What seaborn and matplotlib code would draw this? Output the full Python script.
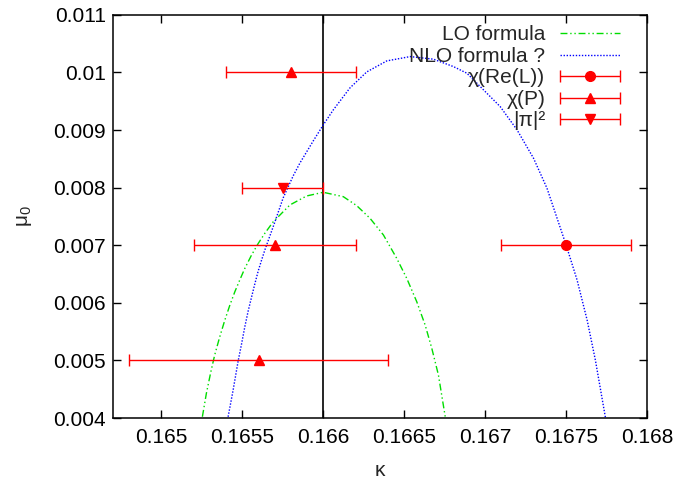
import matplotlib
matplotlib.use("Agg")
import matplotlib.pyplot as plt
from matplotlib.legend_handler import HandlerErrorbar
import seaborn as sns

# curves
lo_kappa = [0.165253, 0.165278, 0.165305, 0.165329, 0.165360, 0.165391, 0.165422,
            0.165453, 0.165484, 0.165515, 0.165557, 0.165598, 0.165639, 0.165690,
            0.165794, 0.165897, 0.166000, 0.166124, 0.166207, 0.166289, 0.166372,
            0.166454, 0.166516, 0.166578, 0.166630, 0.166671, 0.166712, 0.166754]
lo_mu = [0.004023, 0.004434, 0.004799, 0.005094, 0.005407, 0.005694, 0.005954,
         0.006189, 0.006397, 0.006597, 0.006831, 0.007031, 0.007208, 0.007405,
         0.007700, 0.007856, 0.007920, 0.007844, 0.007688, 0.007469, 0.007179,
         0.006774, 0.006427, 0.006020, 0.005615, 0.005211, 0.004747, 0.004023]

nlo_kappa = [0.165412, 0.165443, 0.165474, 0.165495, 0.165515, 0.165536, 0.165557,
             0.165577, 0.165598, 0.165619, 0.165639, 0.165701, 0.165752, 0.165814,
             0.165856, 0.165938, 0.166000, 0.166062, 0.166165, 0.166269, 0.166393,
             0.166537, 0.166681, 0.166805, 0.166888, 0.166991, 0.167094, 0.167198,
             0.167300, 0.167383, 0.167503, 0.167569, 0.167631, 0.167682, 0.167744]
nlo_mu = [0.004023, 0.004486, 0.004990, 0.005285, 0.005581, 0.005859, 0.006102,
          0.006328, 0.006553, 0.006744, 0.006918, 0.007404, 0.007821, 0.008204,
          0.008429, 0.008811, 0.009089, 0.009350, 0.009732, 0.010010, 0.010201,
          0.010276, 0.010231, 0.010102, 0.009987, 0.009697, 0.009407, 0.009003,
          0.008510, 0.007990, 0.006988, 0.006397, 0.005702, 0.005007, 0.004012]

# data points with horizontal errors
rel_kappa = [0.1675]
rel_mu = [0.007]
rel_err = [0.0004]

chip_kappa = [0.1658, 0.1657, 0.1656]
chip_mu = [0.010, 0.007, 0.005]
chip_err_lo = [0.0004, 0.0005, 0.0008]
chip_err_hi = [0.0004, 0.0005, 0.0008]

pi_kappa = [0.16575]
pi_mu = [0.008]
pi_err = [0.00025]

kappa_c = 0.166

xticks = [0.165, 0.1655, 0.166, 0.1665, 0.167, 0.1675, 0.168]
xticklabels = ["0.165", "0.1655", "0.166", "0.1665", "0.167", "0.1675", "0.168"]
yticks = [0.004, 0.005, 0.006, 0.007, 0.008, 0.009, 0.010, 0.011]
yticklabels = ["0.004", "0.005", "0.006", "0.007", "0.008", "0.009", "0.01", "0.011"]

sns.set_theme(style="ticks")
plt.rcParams['font.family'] = ['Liberation Sans', 'DejaVu Sans']
plt.rcParams['mathtext.fontset'] = 'custom'
plt.rcParams['mathtext.rm'] = 'Liberation Sans'
plt.rcParams['mathtext.it'] = 'Liberation Sans'

fig = plt.figure(figsize=(6.97, 4.80), dpi=100)
ax = fig.add_axes([0.162, 0.129, 0.766, 0.840])

ax.axvline(kappa_c, color="black", lw=1.2, zorder=1)

sns.lineplot(x=lo_kappa, y=lo_mu, ax=ax, color="#00dd00", lw=1.0, sort=False,
             estimator=None, label="LO formula", linestyle=(0, (5, 2, 1, 2, 1, 2)))
sns.lineplot(x=nlo_kappa, y=nlo_mu, ax=ax, color="#0000ff", lw=1.0, sort=False,
             estimator=None, label="NLO formula ?", linestyle=(0, (1, 1.2)))

ekw = dict(color="#ff0000", ecolor="#ff0000", elinewidth=1.0, capsize=4,
           capthick=1.0, linestyle="none")
ax.errorbar(rel_kappa, rel_mu, xerr=rel_err, fmt="o", ms=7, label="χ(Re(L))", **ekw)
ax.errorbar(chip_kappa, chip_mu, xerr=[chip_err_lo, chip_err_hi], fmt="^", ms=7,
            label="χ(P)", **ekw)
ax.errorbar(pi_kappa, pi_mu, xerr=pi_err, fmt="v", ms=7, label="|π|²", **ekw)

ax.set_xlim(0.1647, 0.168)
ax.set_ylim(0.004, 0.011)
ax.set_xticks(xticks, xticklabels)
ax.set_yticks(yticks, yticklabels)
ax.tick_params(direction="in", top=True, right=True, length=6, width=1,
               labelsize=15, colors="black")
ax.tick_params(axis="x", pad=7)
ax.tick_params(axis="y", pad=5)
for s in ax.spines.values():
    s.set_linewidth(1.1)
    s.set_color("black")

ax.set_xlabel("κ", fontsize=15, labelpad=10)
ax.set_ylabel("μ$_0$", fontsize=15, labelpad=14)

ax.legend(loc="upper right", frameon=False, fontsize=15, markerfirst=False,
          handlelength=2.9, handletextpad=0.7, labelspacing=0.12,
          borderaxespad=0.1, bbox_to_anchor=(0.970, 1.0),
          handler_map={matplotlib.container.ErrorbarContainer: HandlerErrorbar(xerr_size=1.45)})

fig.savefig("out.png", dpi=100)
